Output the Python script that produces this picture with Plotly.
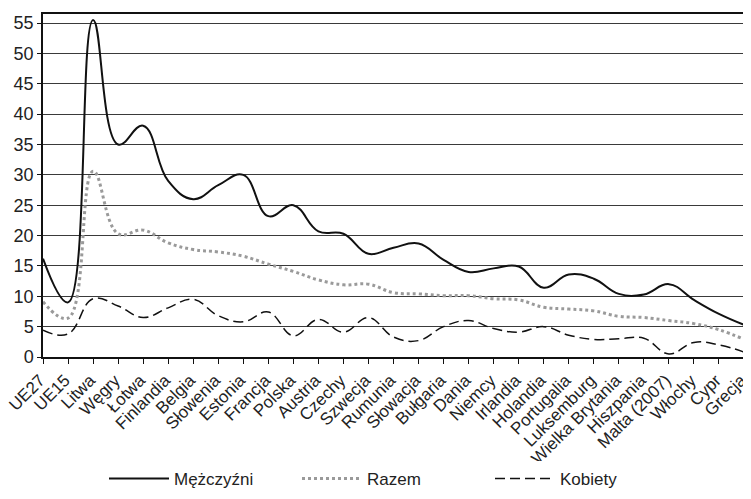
import plotly.graph_objects as go

categories = ["UE27", "UE15", "Litwa", "Węgry", "Łotwa", "Finlandia", "Belgia", "Słowenia",
              "Estonia", "Francja", "Polska", "Austria", "Czechy", "Szwecja", "Rumunia",
              "Słowacja", "Bułgaria", "Dania", "Niemcy", "Irlandia", "Holandia", "Portugalia",
              "Luksemburg", "Wielka Brytania", "Hiszpania", "Malta (2007)", "Włochy", "Cypr", "Grecja"]

mezczyzni = [16.2, 9.0, 55.5, 35.0, 38.1, 29.0, 26.0, 28.3, 30.0, 23.2, 25.0, 20.7, 20.3, 17.0,
             18.0, 18.7, 16.0, 14.0, 14.6, 14.9, 11.4, 13.6, 12.9, 10.4, 10.3, 12.0, 9.4, 7.1, 5.3]
razem = [9.1, 6.4, 30.6, 20.3, 20.9, 18.8, 17.7, 17.3, 16.6, 15.3, 14.1, 12.7, 11.9, 12.0,
         10.6, 10.4, 10.1, 10.1, 9.6, 9.4, 8.2, 7.9, 7.6, 6.7, 6.5, 6.0, 5.5, 4.5, 2.9]
kobiety = [4.4, 3.8, 9.6, 8.4, 6.5, 8.1, 9.5, 6.8, 5.8, 7.4, 3.5, 6.2, 4.1, 6.5,
           3.3, 2.7, 5.0, 6.0, 4.7, 4.1, 5.0, 3.6, 2.9, 3.0, 3.1, 0.5, 2.4, 2.0, 0.8]

y_ticks = [0, 5, 10, 15, 20, 25, 30, 35, 40, 45, 50, 55]

font_family = "Liberation Sans, Arial, Helvetica, sans-serif"

fig = go.Figure()
fig.add_trace(go.Scatter(x=categories, y=mezczyzni, name="Mężczyźni", mode="lines",
                         line=dict(color="#111111", width=2, shape="spline", smoothing=1.2)))
fig.add_trace(go.Scatter(x=categories, y=razem, name="Razem", mode="lines",
                         line=dict(color="#9a9a9a", width=3, dash="dot", shape="spline", smoothing=1.2)))
fig.add_trace(go.Scatter(x=categories, y=kobiety, name="Kobiety", mode="lines",
                         line=dict(color="#111111", width=1.5, dash="10px,5px", shape="spline", smoothing=1.2)))

fig.update_layout(
    width=743, height=491,
    margin=dict(l=35, r=7, t=6, b=142, autoexpand=False),
    paper_bgcolor="white", plot_bgcolor="white",
    font=dict(family=font_family, size=15, color="#222222"),
    showlegend=True,
    legend=dict(orientation="h", x=0.5, xanchor="center", y=-0.303, yanchor="top",
                itemwidth=60, entrywidth=118, font=dict(size=17), tracegroupgap=0,
                itemsizing="trace"),
    xaxis=dict(type="category", range=[0, len(categories) - 1], tickangle=-45,
               showgrid=False, showline=True, linecolor="#111111", linewidth=1.5,
               mirror=True, ticks="outside", ticklen=5, tickcolor="#111111",
               tickfont=dict(size=17), zeroline=False, automargin=False,
               ticklabelshift=-3),
    yaxis=dict(range=[0, 56.5], tickvals=y_ticks, showgrid=True, gridcolor="#3a3a3a",
               gridwidth=1, showline=True, linecolor="#111111", linewidth=1.5, mirror=True,
               ticks="outside", ticklen=4, tickcolor="#111111", tickfont=dict(size=18),
               zeroline=False, automargin=False),
)

fig.write_html("out.html")
